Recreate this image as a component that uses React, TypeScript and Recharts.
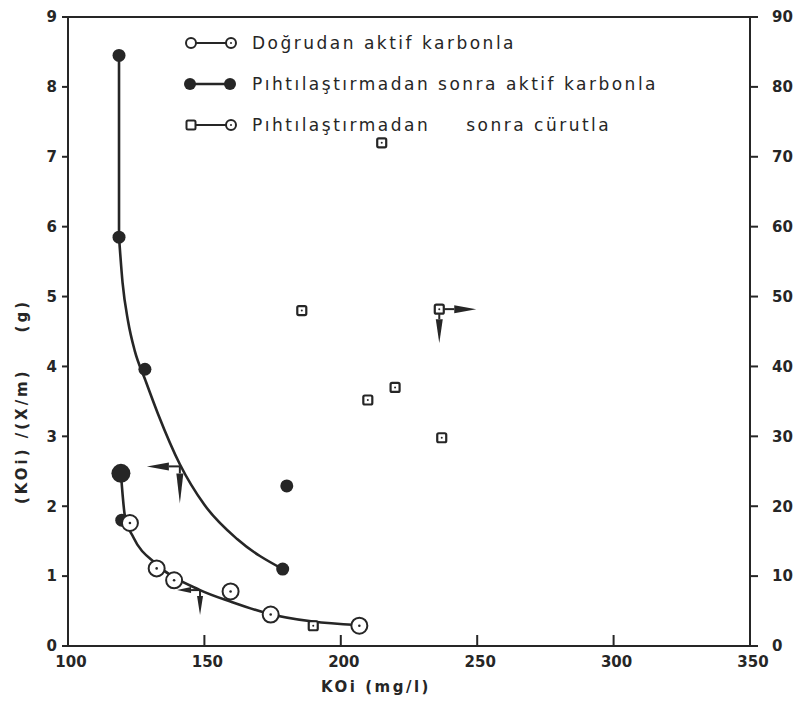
import React from 'react';
import { ComposedChart, Line, Scatter, XAxis, YAxis, Legend, ReferenceLine } from 'recharts';

// ---------- data ----------
const xTicks = [100, 150, 200, 250, 300, 350];
const leftTicks = [0, 1, 2, 3, 4, 5, 6, 7, 8, 9];
const rightTicks = [0, 10, 20, 30, 40, 50, 60, 70, 80, 90];

const legendLabels = [
  'Doğrudan aktif karbonla',
  'Pıhtılaştırmadan sonra aktif karbonla',
  'Pıhtılaştırmadan',
  'sonra cürutla',
];
const xTitle = 'KOi (mg/l)';
const yTitleA = '(KOi) /(X/m)';
const yTitleB = '(g)';

// Doğrudan aktif karbonla (open circles, left axis)
const directCarbon = [
  { x: 122.7, y: 1.76 },
  { x: 132.5, y: 1.11 },
  { x: 138.9, y: 0.94 },
  { x: 159.6, y: 0.78 },
  { x: 174.3, y: 0.45 },
  { x: 206.8, y: 0.29 },
];

// Pıhtılaştırmadan sonra aktif karbonla (filled circles, left axis)
const coagCarbon = [
  { x: 118.7, y: 8.45 },
  { x: 118.7, y: 5.85 },
  { x: 128.2, y: 3.96 },
  { x: 178.7, y: 1.1 },
  { x: 180.2, y: 2.29 },
  { x: 119.7, y: 1.8 },
];
const coagCarbonStart = [{ x: 119.4, y: 2.47 }];

// Pıhtılaştırmadan sonra cürutla (squares, right axis)
const coagSlag = [
  { x: 215.0, y: 72.0 },
  { x: 185.7, y: 48.0 },
  { x: 236.1, y: 48.2 },
  { x: 209.9, y: 35.2 },
  { x: 219.9, y: 37.0 },
  { x: 237.0, y: 29.8 },
  { x: 189.9, y: 2.9 },
];

// fitted curves
const upperStem = [
  { x: 118.7, y: 8.45 },
  { x: 118.7, y: 5.85 },
];
const upperCurve = [
  { x: 118.7, y: 5.85 },
  { x: 120.0, y: 5.2 },
  { x: 122.0, y: 4.65 },
  { x: 124.5, y: 4.22 },
  { x: 128.2, y: 3.82 },
  { x: 133.0, y: 3.32 },
  { x: 141.0, y: 2.6 },
  { x: 150.0, y: 2.02 },
  { x: 162.0, y: 1.53 },
  { x: 178.7, y: 1.1 },
];
const lowerCurve = [
  { x: 119.4, y: 2.47 },
  { x: 120.9, y: 1.85 },
  { x: 123.9, y: 1.56 },
  { x: 132.5, y: 1.17 },
  { x: 148.4, y: 0.8 },
  { x: 160.0, y: 0.63 },
  { x: 172.8, y: 0.47 },
  { x: 189.8, y: 0.35 },
  { x: 206.0, y: 0.3 },
];

// axis-indicator arrows
const bigLeftArrow = [{ x: 141.0, y: 2.57 }];
const smallLeftArrow = [{ x: 148.4, y: 0.8 }];
const rightAxisArrow = [{ x: 236.1, y: 48.2 }];

// ---------- styles / shapes ----------
const INK = '#262626';
const FONT = '"DejaVu Sans", sans-serif';

const OpenCircle = (p: any) => (
  <g>
    <circle cx={p.cx} cy={p.cy} r={8} fill="#fff" stroke={INK} strokeWidth={2} />
    <circle cx={p.cx} cy={p.cy} r={1.3} fill={INK} />
  </g>
);
const FilledCircle = (p: any) => <circle cx={p.cx} cy={p.cy} r={6.5} fill={INK} />;
const BigFilledCircle = (p: any) => <circle cx={p.cx} cy={p.cy} r={9.5} fill={INK} />;
const Square = (p: any) => (
  <g>
    <rect x={p.cx - 4.5} y={p.cy - 4.5} width={9} height={9} rx={1.5} fill="#fff" stroke={INK} strokeWidth={2.2} />
    <circle cx={p.cx} cy={p.cy} r={1} fill={INK} />
  </g>
);

function arrow(cx: number, cy: number, ux: number, uy: number, len: number, head: number, hw: number, start = 0) {
  const bx = cx + ux * (len - head);
  const by = cy + uy * (len - head);
  const tx = cx + ux * len;
  const ty = cy + uy * len;
  const px = -uy;
  const py = ux;
  return (
    <g>
      <line x1={cx + ux * start} y1={cy + uy * start} x2={bx} y2={by} stroke={INK} strokeWidth={2} />
      <polygon
        points={`${bx + px * hw},${by + py * hw} ${tx},${ty} ${bx - px * hw},${by - py * hw}`}
        fill={INK}
      />
    </g>
  );
}

const BigLeftArrowShape = (p: any) => (
  <g>
    {arrow(p.cx, p.cy, -1, 0, 33, 22, 4)}
    {arrow(p.cx, p.cy, 0, 1, 37, 30, 3.5)}
  </g>
);
const SmallLeftArrowShape = (p: any) => (
  <g>
    {arrow(p.cx, p.cy, -1, 0, 23, 14, 3)}
    {arrow(p.cx, p.cy, 0, 1, 25, 19, 3)}
  </g>
);
const RightArrowShape = (p: any) => (
  <g>
    {arrow(p.cx, p.cy, 1, 0, 37, 22, 4, 5)}
    {arrow(p.cx, p.cy, 0, 1, 34, 24, 3.5, 5)}
  </g>
);

const XTick = (p: any) => (
  <g>
    <line x1={p.x} y1={p.y} x2={p.x} y2={p.y - 11} stroke={INK} strokeWidth={2} />
    <text x={p.x + 3} y={p.y + 21} textAnchor="middle" fontFamily={FONT} fontWeight="bold" fontSize={15} fill={INK}>
      {p.payload.value}
    </text>
  </g>
);

const renderLegend = () => {
  const rows = [20, 61, 102];
  const textX = 74;
  const txt = { fontFamily: FONT, fontSize: 17, fill: INK, letterSpacing: 2.5 } as const;
  return (
    <svg width={520} height={125} style={{ overflow: 'visible' }}>
      {/* row 1 */}
      <line x1={13} y1={rows[0]} x2={53} y2={rows[0]} stroke={INK} strokeWidth={2} />
      <circle cx={13} cy={rows[0]} r={5} fill="#fff" stroke={INK} strokeWidth={2} />
      <circle cx={53} cy={rows[0]} r={5} fill="#fff" stroke={INK} strokeWidth={2} />
      <circle cx={53} cy={rows[0]} r={1} fill={INK} />
      <text x={textX} y={rows[0] + 6} {...txt}>{legendLabels[0]}</text>
      {/* row 2 */}
      <line x1={12} y1={rows[1]} x2={52} y2={rows[1]} stroke={INK} strokeWidth={2.5} />
      <circle cx={12} cy={rows[1]} r={6} fill={INK} />
      <circle cx={52} cy={rows[1]} r={6} fill={INK} />
      <text x={textX} y={rows[1] + 6} {...txt}>{legendLabels[1]}</text>
      {/* row 3 */}
      <line x1={13} y1={rows[2]} x2={53} y2={rows[2]} stroke={INK} strokeWidth={2} />
      <rect x={8.5} y={rows[2] - 4.5} width={9} height={9} rx={1.5} fill="#fff" stroke={INK} strokeWidth={2} />
      <circle cx={53} cy={rows[2]} r={5} fill="#fff" stroke={INK} strokeWidth={2} />
      <circle cx={53} cy={rows[2]} r={1} fill={INK} />
      <text x={textX} y={rows[2] + 6} {...txt}>
        {legendLabels[2]}
        <tspan dx={36}>{legendLabels[3]}</tspan>
      </text>
    </svg>
  );
};

const XTitle = (p: any) => {
  const vb = p.viewBox || { x: 60, y: 638, width: 682, height: 60 };
  return (
    <text
      x={vb.x + vb.width / 2 - 33}
      y={vb.y + 46}
      textAnchor="middle"
      fontFamily={FONT}
      fontWeight="bold"
      fontSize={15}
      letterSpacing={2.5}
      fill={INK}
    >
      {xTitle}
    </text>
  );
};

const YTitle = (p: any) => {
  const vb = p.viewBox || { x: 0, y: 9, width: 60, height: 629 };
  const cx = 14;
  const cy = vb.y + vb.height / 2 + 70;
  return (
    <text
      x={cx}
      y={cy}
      transform={`rotate(-90, ${cx}, ${cy})`}
      textAnchor="middle"
      dominantBaseline="central"
      fontFamily={FONT}
      fontWeight="bold"
      fontSize={15}
      letterSpacing={3}
      fill={INK}
    >
      {yTitleA}
      <tspan dx={36}>{yTitleB}</tspan>
    </text>
  );
};

const tickStyle = { fontFamily: FONT, fontWeight: 'bold', fontSize: 15, fill: INK } as any;

const curveProps = {
  dataKey: 'y',
  yAxisId: 'left',
  dot: false,
  activeDot: false,
  stroke: INK,
  strokeWidth: 2.6,
  isAnimationActive: false,
  legendType: 'none',
} as any;

export default function App() {
  return (
    <div style={{ width: 793, height: 698 }}>
      <ComposedChart width={793} height={698} margin={{ top: 9, right: 0, bottom: 0, left: 0 }}>
        <XAxis
          dataKey="x"
          type="number"
          domain={[100, 350]}
          ticks={xTicks}
          allowDataOverflow
          height={60}
          tickSize={0}
          tickMargin={0}
          tickLine={false}
          tick={<XTick />}
          axisLine={{ stroke: INK, strokeWidth: 2 }}
          label={XTitle}
        />
        <YAxis
          yAxisId="left"
          dataKey="y"
          type="number"
          domain={[0, 9]}
          ticks={leftTicks}
          allowDataOverflow
          width={60}
          tickSize={6}
          tickMargin={5}
          tick={tickStyle}
          tickLine={{ stroke: INK, strokeWidth: 2 }}
          axisLine={{ stroke: INK, strokeWidth: 2 }}
          label={YTitle}
        />
        <YAxis
          yAxisId="right"
          orientation="right"
          dataKey="y"
          type="number"
          domain={[0, 90]}
          ticks={rightTicks}
          allowDataOverflow
          width={51}
          tickSize={8}
          tickMargin={14}
          tick={tickStyle}
          tickLine={{ stroke: INK, strokeWidth: 2 }}
          axisLine={{ stroke: INK, strokeWidth: 2 }}
        />
        <ReferenceLine yAxisId="left" y={9} stroke={INK} strokeWidth={2} />
        <Legend
          layout="horizontal"
          verticalAlign="middle"
          align="center"
          wrapperStyle={{ top: 15, left: 170, width: 520, height: 125 }}
          content={renderLegend}
        />
        <Line data={upperStem} type="linear" {...curveProps} />
        <Line data={upperCurve} type="monotoneX" {...curveProps} />
        <Line data={lowerCurve} type="monotoneX" {...curveProps} />
        <Scatter data={bigLeftArrow} dataKey="y" yAxisId="left" shape={BigLeftArrowShape} isAnimationActive={false} />
        <Scatter data={smallLeftArrow} dataKey="y" yAxisId="left" shape={SmallLeftArrowShape} isAnimationActive={false} />
        <Scatter data={rightAxisArrow} dataKey="y" yAxisId="right" shape={RightArrowShape} isAnimationActive={false} />
        <Scatter data={coagSlag} dataKey="y" yAxisId="right" shape={Square} isAnimationActive={false} />
        <Scatter data={coagCarbonStart} dataKey="y" yAxisId="left" shape={BigFilledCircle} isAnimationActive={false} />
        <Scatter data={coagCarbon} dataKey="y" yAxisId="left" shape={FilledCircle} isAnimationActive={false} />
        <Scatter data={directCarbon} dataKey="y" yAxisId="left" shape={OpenCircle} isAnimationActive={false} />
      </ComposedChart>
    </div>
  );
}
